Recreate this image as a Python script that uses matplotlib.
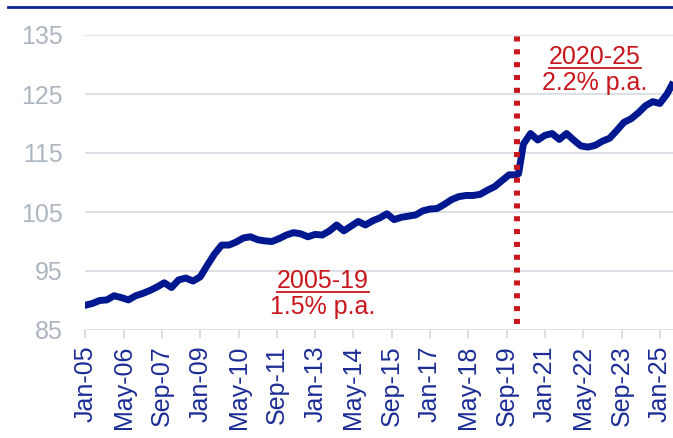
import matplotlib.pyplot as plt
from matplotlib.lines import Line2D

plt.rcParams['font.family'] = ['Liberation Sans', 'DejaVu Sans']

# months since Jan-05
months = [0, 3, 6, 9, 12, 15, 18, 21, 24, 27, 30, 33, 36, 39, 42, 45, 48, 51, 54, 57,
          60, 63, 66, 69, 72, 75, 78, 81, 84, 87, 90, 93, 96, 99, 102, 105, 108, 111,
          114, 117, 120, 123, 126, 129, 132, 135, 138, 141, 144, 147, 150, 153, 156,
          159, 162, 165, 168, 171, 174, 177, 180, 181, 183, 186, 189, 192, 195, 198,
          201, 204, 207, 210, 213, 216, 219, 222, 225, 228, 231, 234, 237, 240, 243, 245]
values = [89.2, 89.5, 90.0, 90.1, 90.8, 90.5, 90.1, 90.8, 91.2, 91.7, 92.3, 93.0, 92.2,
          93.5, 93.8, 93.3, 94.0, 96.0, 97.9, 99.4, 99.4, 99.9, 100.6, 100.8, 100.3,
          100.1, 100.0, 100.5, 101.1, 101.5, 101.3, 100.8, 101.2, 101.1, 101.8, 102.8,
          101.8, 102.6, 103.4, 102.8, 103.5, 104.0, 104.7, 103.7, 104.1, 104.3, 104.5,
          105.2, 105.5, 105.6, 106.3, 107.1, 107.6, 107.8, 107.8, 108.0, 108.7, 109.3,
          110.3, 111.3, 111.3, 111.5, 116.5, 118.3, 117.2, 118.0, 118.3, 117.3, 118.3,
          117.2, 116.2, 116.0, 116.3, 117.0, 117.5, 118.8, 120.2, 120.8, 121.8, 123.0,
          123.7, 123.4, 125.0, 126.5]

tick_labels = ['Jan-05', 'May-06', 'Sep-07', 'Jan-09', 'May-10', 'Sep-11', 'Jan-13',
               'May-14', 'Sep-15', 'Jan-17', 'May-18', 'Sep-19', 'Jan-21', 'May-22',
               'Sep-23', 'Jan-25']
tick_pos = [16 * i for i in range(len(tick_labels))]
y_ticks = [85, 95, 105, 115, 125, 135]
break_month = 180.4

red = '#C8161D'
navy = '#00188F'
grey = '#D3D8DF'

fig = plt.figure(figsize=(6.73, 4.38), dpi=100)
ax = fig.add_axes([85.3 / 673, 1 - 330 / 438, 1 - 85.3 / 673, (330 - 35) / 438])

ax.plot(months, values, color=navy, lw=5, solid_joinstyle='round', zorder=3)
ax.axvline(break_month, ymin=0.02, ymax=1, color=red, lw=4.3,
           linestyle=(0, (0.85, 1.3)), dash_capstyle='butt', zorder=4)

ax.set_xlim(0, 245.5)
ax.set_ylim(85, 135)
ax.set_yticks(y_ticks)
ax.set_xticks(tick_pos)
ax.set_xticklabels(tick_labels, rotation=90, color='#1C2C96', fontsize=18)
ax.tick_params(axis='y', length=0, pad=16, labelsize=18, labelcolor='#ADB6C0')
ax.tick_params(axis='x', length=6, width=1.2, color=grey, pad=5)
ax.grid(axis='y', color=grey, lw=1.1)
ax.set_axisbelow(True)
for s in ax.spines.values():
    s.set_visible(False)

t1 = ax.text(99.2, 92.07, '2005-19', color=red, fontsize=18, ha='center', va='baseline')
ax.text(99.2, 87.7, '1.5% p.a.', color=red, fontsize=18, ha='center', va='baseline')
t2 = ax.text(212.8, 130.03, '2020-25', color=red, fontsize=18, ha='center', va='baseline')
ax.text(212.8, 125.68, '2.2% p.a.', color=red, fontsize=18, ha='center', va='baseline')

# underline the period labels, 4px below the baseline
fig.canvas.draw()
r = fig.canvas.get_renderer()
for t in (t1, t2):
    bb = t.get_window_extent(r)
    base_y = ax.transData.transform(t.get_position())[1] - 4
    x0, y0 = fig.transFigure.inverted().transform((bb.x0, base_y))
    x1, _ = fig.transFigure.inverted().transform((bb.x1, base_y))
    fig.add_artist(Line2D([x0, x1], [y0, y0], color=red, lw=1.3))

# dark rule across the top
fig.add_artist(Line2D([8 / 673, 1], [1 - 7 / 438, 1 - 7 / 438], color='#0A2596', lw=2))

fig.savefig('out.png', dpi=100)
